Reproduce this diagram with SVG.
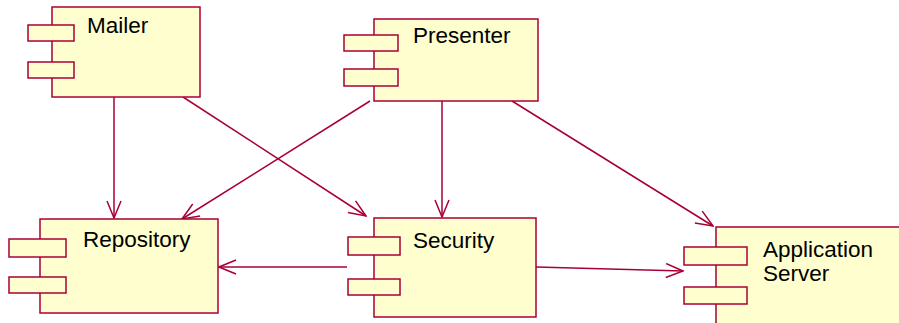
<svg xmlns="http://www.w3.org/2000/svg" width="899" height="323" viewBox="0 0 899 323">
  <defs>
    <style>
      .body { fill: #FEFECE; stroke: #A80036; stroke-width: 1.5; }
      .port { fill: #FEFECE; stroke: #A80036; stroke-width: 1.5; }
      .label { font-family: "Liberation Sans", Arial, sans-serif; font-size: 22.5px; fill: #000000; }
      .link { fill: none; stroke: #A80036; stroke-width: 1.5; }
    </style>
    <!-- open "V" arrowhead, tip at the end of the line -->
    <marker id="open" viewBox="0 0 20 16" refX="18.5" refY="8" markerWidth="20" markerHeight="16" markerUnits="userSpaceOnUse" orient="auto">
      <path d="M1.5,1 L18.5,8 L1.5,15" fill="none" stroke="#A80036" stroke-width="1.5"/>
    </marker>
  </defs>

  <rect width="899" height="323" fill="#FFFFFF"/>

  <g id="connectors">
    <line class="link" x1="114" y1="97" x2="114" y2="218" marker-end="url(#open)"/>
    <line class="link" x1="183" y1="97" x2="366" y2="216" marker-end="url(#open)"/>
    <line class="link" x1="370" y1="101" x2="182" y2="219" marker-end="url(#open)"/>
    <line class="link" x1="442" y1="101" x2="442" y2="217" marker-end="url(#open)"/>
    <line class="link" x1="512" y1="101" x2="713" y2="226" marker-end="url(#open)"/>
    <line class="link" x1="347" y1="267" x2="219" y2="267" marker-end="url(#open)"/>
    <line class="link" x1="536" y1="267" x2="683" y2="271" marker-end="url(#open)"/>
  </g>

  <g id="mailer">
    <rect class="body" x="52" y="7" width="148" height="90"/>
    <rect class="port" x="28" y="25" width="46" height="16"/>
    <rect class="port" x="28" y="62" width="46" height="16"/>
    <text class="label" x="87" y="33">Mailer</text>
  </g>

  <g id="presenter">
    <rect class="body" x="374" y="19" width="164" height="82"/>
    <rect class="port" x="344" y="35" width="54" height="16"/>
    <rect class="port" x="344" y="69" width="54" height="17"/>
    <text class="label" x="413" y="43">Presenter</text>
  </g>

  <g id="repository">
    <rect class="body" x="40" y="219" width="178" height="94"/>
    <rect class="port" x="9" y="239" width="57" height="18"/>
    <rect class="port" x="9" y="277" width="57" height="16"/>
    <text class="label" x="83" y="247">Repository</text>
  </g>

  <g id="security">
    <rect class="body" x="374" y="218" width="162" height="99"/>
    <rect class="port" x="348" y="237" width="52" height="18"/>
    <rect class="port" x="348" y="279" width="52" height="16"/>
    <text class="label" x="413" y="248">Security</text>
  </g>

  <g id="application-server">
    <rect class="body" x="716" y="227" width="200" height="110"/>
    <rect class="port" x="684" y="247" width="63" height="18"/>
    <rect class="port" x="684" y="287" width="63" height="17"/>
    <text class="label" x="763" y="257">Application</text>
    <text class="label" x="763" y="281">Server</text>
  </g>
</svg>
